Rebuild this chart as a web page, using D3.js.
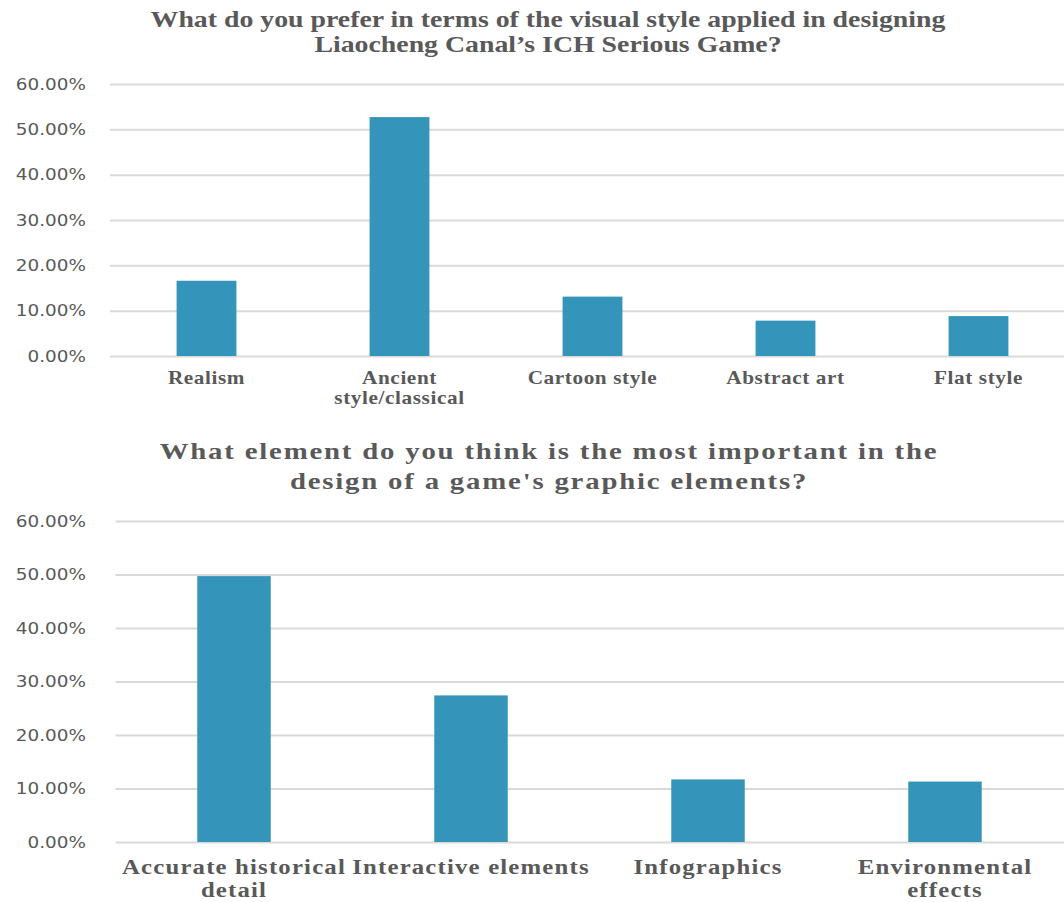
<!DOCTYPE html>
<html><head><meta charset="utf-8">
<script src="https://cdn.jsdelivr.net/npm/d3@7"></script>
<style>body{margin:0;background:#fff}svg{display:block}</style>
</head><body>
<svg id="c" width="1064" height="902"></svg>
<script>
// ---- data ----
const title1 = ["What do you prefer in terms of the visual style applied in designing", "Liaocheng Canal\u2019s ICH Serious Game?"];
const categories1 = ["Realism", "Ancient\nstyle/classical", "Cartoon style", "Abstract art", "Flat style"];
const values1 = [0.166, 0.527, 0.131, 0.078, 0.088];

const title2 = ["What element do you think is the most important in the", "design of a game's graphic elements?"];
const categories2 = ["Accurate historical\ndetail", "Interactive elements", "Infographics", "Environmental\neffects"];
const values2 = [0.497, 0.274, 0.117, 0.113];

const yTicks = [0, 0.1, 0.2, 0.3, 0.4, 0.5, 0.6];

// ---- drawing ----
const svg = d3.select("#c");
const barColor = "#3494BA", gridColor = "#D9D9D9", textColor = "#595959";
const fmt = d3.format(".2%");

function panel(cfg) {
  const g = svg.append("g");
  const x = d3.scaleBand().domain(cfg.cats).range(cfg.xr).paddingInner(0.69).paddingOuter(0.345);
  const y = d3.scaleLinear().domain([0, 0.6]).range(cfg.yr);

  // title
  cfg.title.forEach((t, i) => {
    g.append("text")
      .attr("transform", `translate(${cfg.titleX},${cfg.titleY[i]}) scale(${cfg.titleSX},1)`)
      .attr("text-anchor", "middle")
      .style("font-family", "'Liberation Serif', serif").style("font-weight", "bold")
      .style("font-size", cfg.titleSize + "px").style("letter-spacing", cfg.titleLS + "px")
      .attr("fill", textColor).text(t);
  });

  // gridlines
  const grid = d3.axisLeft(y).tickValues(yTicks).tickSize(-(1064 - cfg.xr[0])).tickFormat("");
  const gG = g.append("g").attr("transform", `translate(${cfg.xr[0]},0)`).call(grid);
  gG.select(".domain").remove();
  gG.selectAll("line").attr("stroke", gridColor).attr("stroke-width", 2);

  // y tick labels via axis
  const ax = d3.axisLeft(y).tickValues(yTicks).tickFormat(fmt).tickSize(0).tickPadding(0);
  const axG = g.append("g").attr("transform", `translate(${cfg.tickRight},0)`).call(ax);
  axG.select(".domain").remove();
  axG.selectAll("text").attr("fill", textColor).attr("transform", "scale(1.15,1)")
    .style("font-family", "'DejaVu Sans', sans-serif").style("font-size", "16px");

  // bars
  g.selectAll("rect.bar").data(cfg.vals).join("rect").attr("class", "bar")
    .attr("x", (d, i) => x(cfg.cats[i]))
    .attr("width", x.bandwidth())
    .attr("y", d => y(d))
    .attr("height", d => y(0) - y(d))
    .attr("fill", barColor);

  // category labels
  cfg.cats.forEach(c => {
    const lines = c.split("\n");
    const t = g.append("text").attr("text-anchor", "middle")
      .attr("transform", `translate(${x(c) + x.bandwidth() / 2},0) scale(${cfg.labSX},1)`)
      .style("font-family", "'Liberation Serif', serif").style("font-weight", "bold")
      .style("font-size", cfg.labSize + "px").style("letter-spacing", cfg.labLS + "px")
      .attr("fill", textColor);
    lines.forEach((l, i) => {
      t.append("tspan").attr("x", 0).attr("y", cfg.labY + i * cfg.labLH).text(l);
    });
  });
}

panel({
  title: title1, titleX: 548, titleY: [27, 52], titleSize: 23, titleLS: 0, titleSX: 1.21,
  cats: categories1, vals: values1,
  xr: [110, 1075], yr: [356, 84], tickRight: 86,
  labSize: 18, labLS: 0.5, labSX: 1.18, labY: 384, labLH: 20
});
panel({
  title: title2, titleX: 549, titleY: [459, 489], titleSize: 24, titleLS: 1.5, titleSX: 1.2,
  cats: categories2, vals: values2,
  xr: [115.5, 1063.5], yr: [842, 521], tickRight: 86,
  labSize: 21, labLS: 1, labSX: 1.18, labY: 874, labLH: 23
});
</script>
</body></html>
